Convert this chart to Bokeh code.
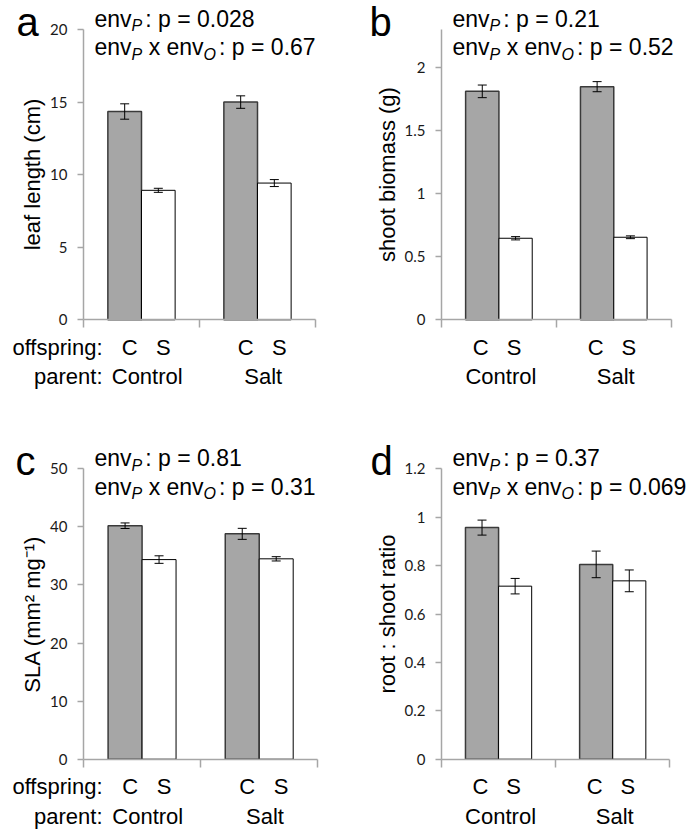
from bokeh.plotting import figure
from bokeh.models import Label, Whisker, ColumnDataSource, FixedTicker, Range1d, TeeHead
from bokeh.layouts import column, row
from bokeh.embed import file_html
from bokeh.resources import INLINE

# ---------------- data ----------------
parents = ["Control", "Salt"]
offspring = ["C", "S"]
row_names = ["offspring:", "parent:"]
panel_letters = ["a", "b", "c", "d"]
y_titles = ["leaf length (cm)", "shoot biomass (g)",
            "SLA (mm\u00b2 mg\u207b\u00b9)", "root : shoot ratio"]
p_envP = ["0.028", "0.21", "0.81", "0.37"]
p_inter = ["0.67", "0.52", "0.31", "0.069"]

leaf_C = [14.35, 15.0]
leaf_C_se = [0.53, 0.43]
leaf_S = [8.92, 9.42]
leaf_S_se = [0.14, 0.24]

shoot_C = [1.81, 1.847]
shoot_C_se = [0.05, 0.04]
shoot_S = [0.646, 0.654]
shoot_S_se = [0.013, 0.011]

sla_C = [40.2, 38.8]
sla_C_se = [0.48, 0.95]
sla_S = [34.37, 34.5]
sla_S_se = [0.65, 0.37]

rs_C = [0.957, 0.805]
rs_C_se = [0.031, 0.055]
rs_S = [0.715, 0.737]
rs_S_se = [0.032, 0.045]

ticks_a = [0, 5, 10, 15, 20]
tick_labels_a = ["0", "5", "10", "15", "20"]
ticks_b = [0, 0.5, 1, 1.5, 2]
tick_labels_b = ["0", "0.5", "1", "1.5", "2"]
ticks_c = [0, 10, 20, 30, 40, 50]
tick_labels_c = ["0", "10", "20", "30", "40", "50"]
ticks_d = [0, 0.2, 0.4, 0.6, 0.8, 1.0, 1.2]
tick_labels_d = ["0", "0.2", "0.4", "0.6", "0.8", "1", "1.2"]
y_max = [20, 2.3, 50, 1.2]

# ---------------- styling helpers ----------------
FONT = "Liberation Sans"
AXIS_GRAY = "#a6a6a6"
BAR_GRAY = "#a6a6a6"
BASE_FIX = 0.36  # observed baseline drift of Label text, in em

ARIAL_W = {' ': 278, '.': 278, ':': 278, '=': 584, 'e': 556, 'n': 556, 'v': 500,
           'x': 500, 'p': 556, 'P': 667, 'O': 778}
for d in "0123456789":
    ARIAL_W[d] = 556


def text_w(s, size):
    return sum(ARIAL_W.get(ch, 556) for ch in s) * size / 1000.0


def make_panel(k, C, Cse, S, Sse, ticks, tlabels, fig_box, area, first_col):
    # fig_box: (x0, y0, w, h) of the figure; area: (left, right, top, bottom) of plot area
    x0, y0, W, H = fig_box
    aL, aR, aT, aB = area
    ymax = y_max[k]
    ppx = (aR - aL) / 2.0
    ppy = (aB - aT) / ymax
    xs0 = -(aL - x0) / ppx
    xs1 = (x0 + W - aL) / ppx
    ye1 = ymax + (aT - y0) / ppy
    ye0 = -(y0 + H - aB) / ppy

    p = figure(frame_width=W, frame_height=H,
               min_border_left=0, min_border_right=0,
               min_border_top=0, min_border_bottom=0,
               x_range=Range1d(xs0, xs1), y_range=Range1d(ye0, ye1),
               toolbar_location=None, output_backend="svg", title=None)
    p.outline_line_color = None
    p.xgrid.visible = False
    p.ygrid.visible = False
    p.background_fill_color = "white"
    p.border_fill_color = "white"

    def fx(px):
        return px / ppx

    def fy(py):
        return ymax - py / ppy

    # y axis
    ya = p.yaxis[0]
    ya.fixed_location = 0
    ya.bounds = (0, ymax)
    ya.ticker = FixedTicker(ticks=ticks)
    ya.major_label_overrides = {t: l for t, l in zip(ticks, tlabels)}
    ya.minor_tick_line_color = None
    ya.major_tick_in = 0
    ya.major_tick_out = 6
    ya.axis_line_color = AXIS_GRAY
    ya.axis_line_width = 1.5
    ya.major_tick_line_color = AXIS_GRAY
    ya.major_tick_line_width = 1.5
    ya.major_label_text_font = "Lato"
    ya.major_label_text_font_size = "15px"
    ya.major_label_text_color = "#1a1a1a"
    ya.major_label_standoff = 10
    ya.axis_label = y_titles[k]
    ya.axis_label_text_font = FONT
    ya.axis_label_text_font_size = "22px"
    ya.axis_label_text_font_style = "normal"
    ya.axis_label_text_color = "black"
    ya.axis_label_standoff = 2

    # x axis: group separators only
    xa = p.xaxis[0]
    xa.fixed_location = 0
    xa.bounds = (0, 2)
    xa.ticker = FixedTicker(ticks=[0, 1, 2])
    xa.major_label_overrides = {0: "", 1: "", 2: ""}
    xa.minor_tick_line_color = None
    xa.major_tick_in = 0
    xa.major_tick_out = 8
    xa.axis_line_color = AXIS_GRAY
    xa.axis_line_width = 1.5
    xa.major_tick_line_color = AXIS_GRAY
    xa.major_tick_line_width = 1.5

    g = list(range(len(parents)))
    xc = [i + 0.355 for i in g]
    xs = [i + 0.645 for i in g]
    p.vbar(x=xc, top=C, width=0.29, fill_color=BAR_GRAY, line_color="#3a3a3a", line_width=1.5)
    p.vbar(x=xs, top=S, width=0.29, fill_color="white", line_color="black", line_width=1)

    src = ColumnDataSource(data=dict(
        x=xc + xs,
        upper=[v + e for v, e in zip(C, Cse)] + [v + e for v, e in zip(S, Sse)],
        lower=[v - e for v, e in zip(C, Cse)] + [v - e for v, e in zip(S, Sse)],
    ))
    w = Whisker(source=src, base="x", upper="upper", lower="lower", dimension="height",
                line_color="black", line_width=1, level="overlay",
                upper_head=TeeHead(size=9, line_color="black", line_width=1),
                lower_head=TeeHead(size=9, line_color="black", line_width=1))
    p.add_layout(w)

    def lab(xd, py, text, size, align="left", style="normal"):
        # py: desired baseline, pixels below the top of the plot area
        p.add_layout(Label(x=xd, y=fy(py - BASE_FIX * size), x_units="data", y_units="data",
                           text=text, text_font=FONT, text_font_size=f"{size}px",
                           text_font_style=style, text_align=align,
                           text_baseline="alphabetic", text_color="black"))

    # panel letter
    letter_dx = {0: -67, 1: -72, 2: -68, 3: -71}[k]
    lab(fx(letter_dx), 6.5, panel_letters[k], 40)

    # statistics text (subscripts as separate smaller italic labels)
    M, SS, SUBD, GAP = 23, 16, 4.5, 3
    lines = [
        [("env", 0), ("P", 1), ("gap", 2), (": p = " + p_envP[k], 0)],
        [("env", 0), ("P", 1), ("sp", 3), ("x env", 0), ("O", 1), ("gap", 2),
         (": p = " + p_inter[k], 0)],
    ]
    for base, pieces in zip([-2.5, 26.0], lines):
        x = 11.0
        for txt, kind in pieces:
            if kind == 2:
                x += GAP
            elif kind == 3:
                x += text_w(" ", M)
            elif kind == 1:
                lab(fx(x), base + SUBD, txt, SS, style="italic")
                x += text_w(txt, SS)
            else:
                lab(fx(x), base, txt, M)
                x += text_w(txt, M)

    # category labels below the axis
    off_py = (aB - aT) + 35.5
    par_py = (aB - aT) + 65.0
    cs_nudge = 5.0 if first_col else -1.5
    par_nudge = 5.7 if first_col else 2.0
    for i in g:
        lab(xc[i] + fx(cs_nudge), off_py, offspring[0], 22, align="center")
        lab(xs[i] + fx(cs_nudge), off_py, offspring[1], 22, align="center")
        lab(i + 0.5 + fx(par_nudge), par_py, parents[i], 22, align="center")
    if first_col:
        lab(fx(19), off_py, row_names[0], 22, align="right")
        lab(fx(19), par_py, row_names[1], 22, align="right")
    return p


pa = make_panel(0, leaf_C, leaf_C_se, leaf_S, leaf_S_se, ticks_a, tick_labels_a,
                (0, 0, 348, 420), (83, 315, 29, 319.3), True)
pb = make_panel(1, shoot_C, shoot_C_se, shoot_S, shoot_S_se, ticks_b, tick_labels_b,
                (348, 0, 349, 420), (441, 670.7, 29, 319.3), False)
pc = make_panel(2, sla_C, sla_C_se, sla_S, sla_S_se, ticks_c, tick_labels_c,
                (0, 420, 348, 411), (83, 317.3, 468.3, 758.7), True)
pd = make_panel(3, rs_C, rs_C_se, rs_S, rs_S_se, ticks_d, tick_labels_d,
                (348, 420, 349, 411), (441, 669.3, 468.3, 758.7), False)

layout = column(row(pa, pb), row(pc, pd))
open("out.html", "w").write(file_html(layout, INLINE))
